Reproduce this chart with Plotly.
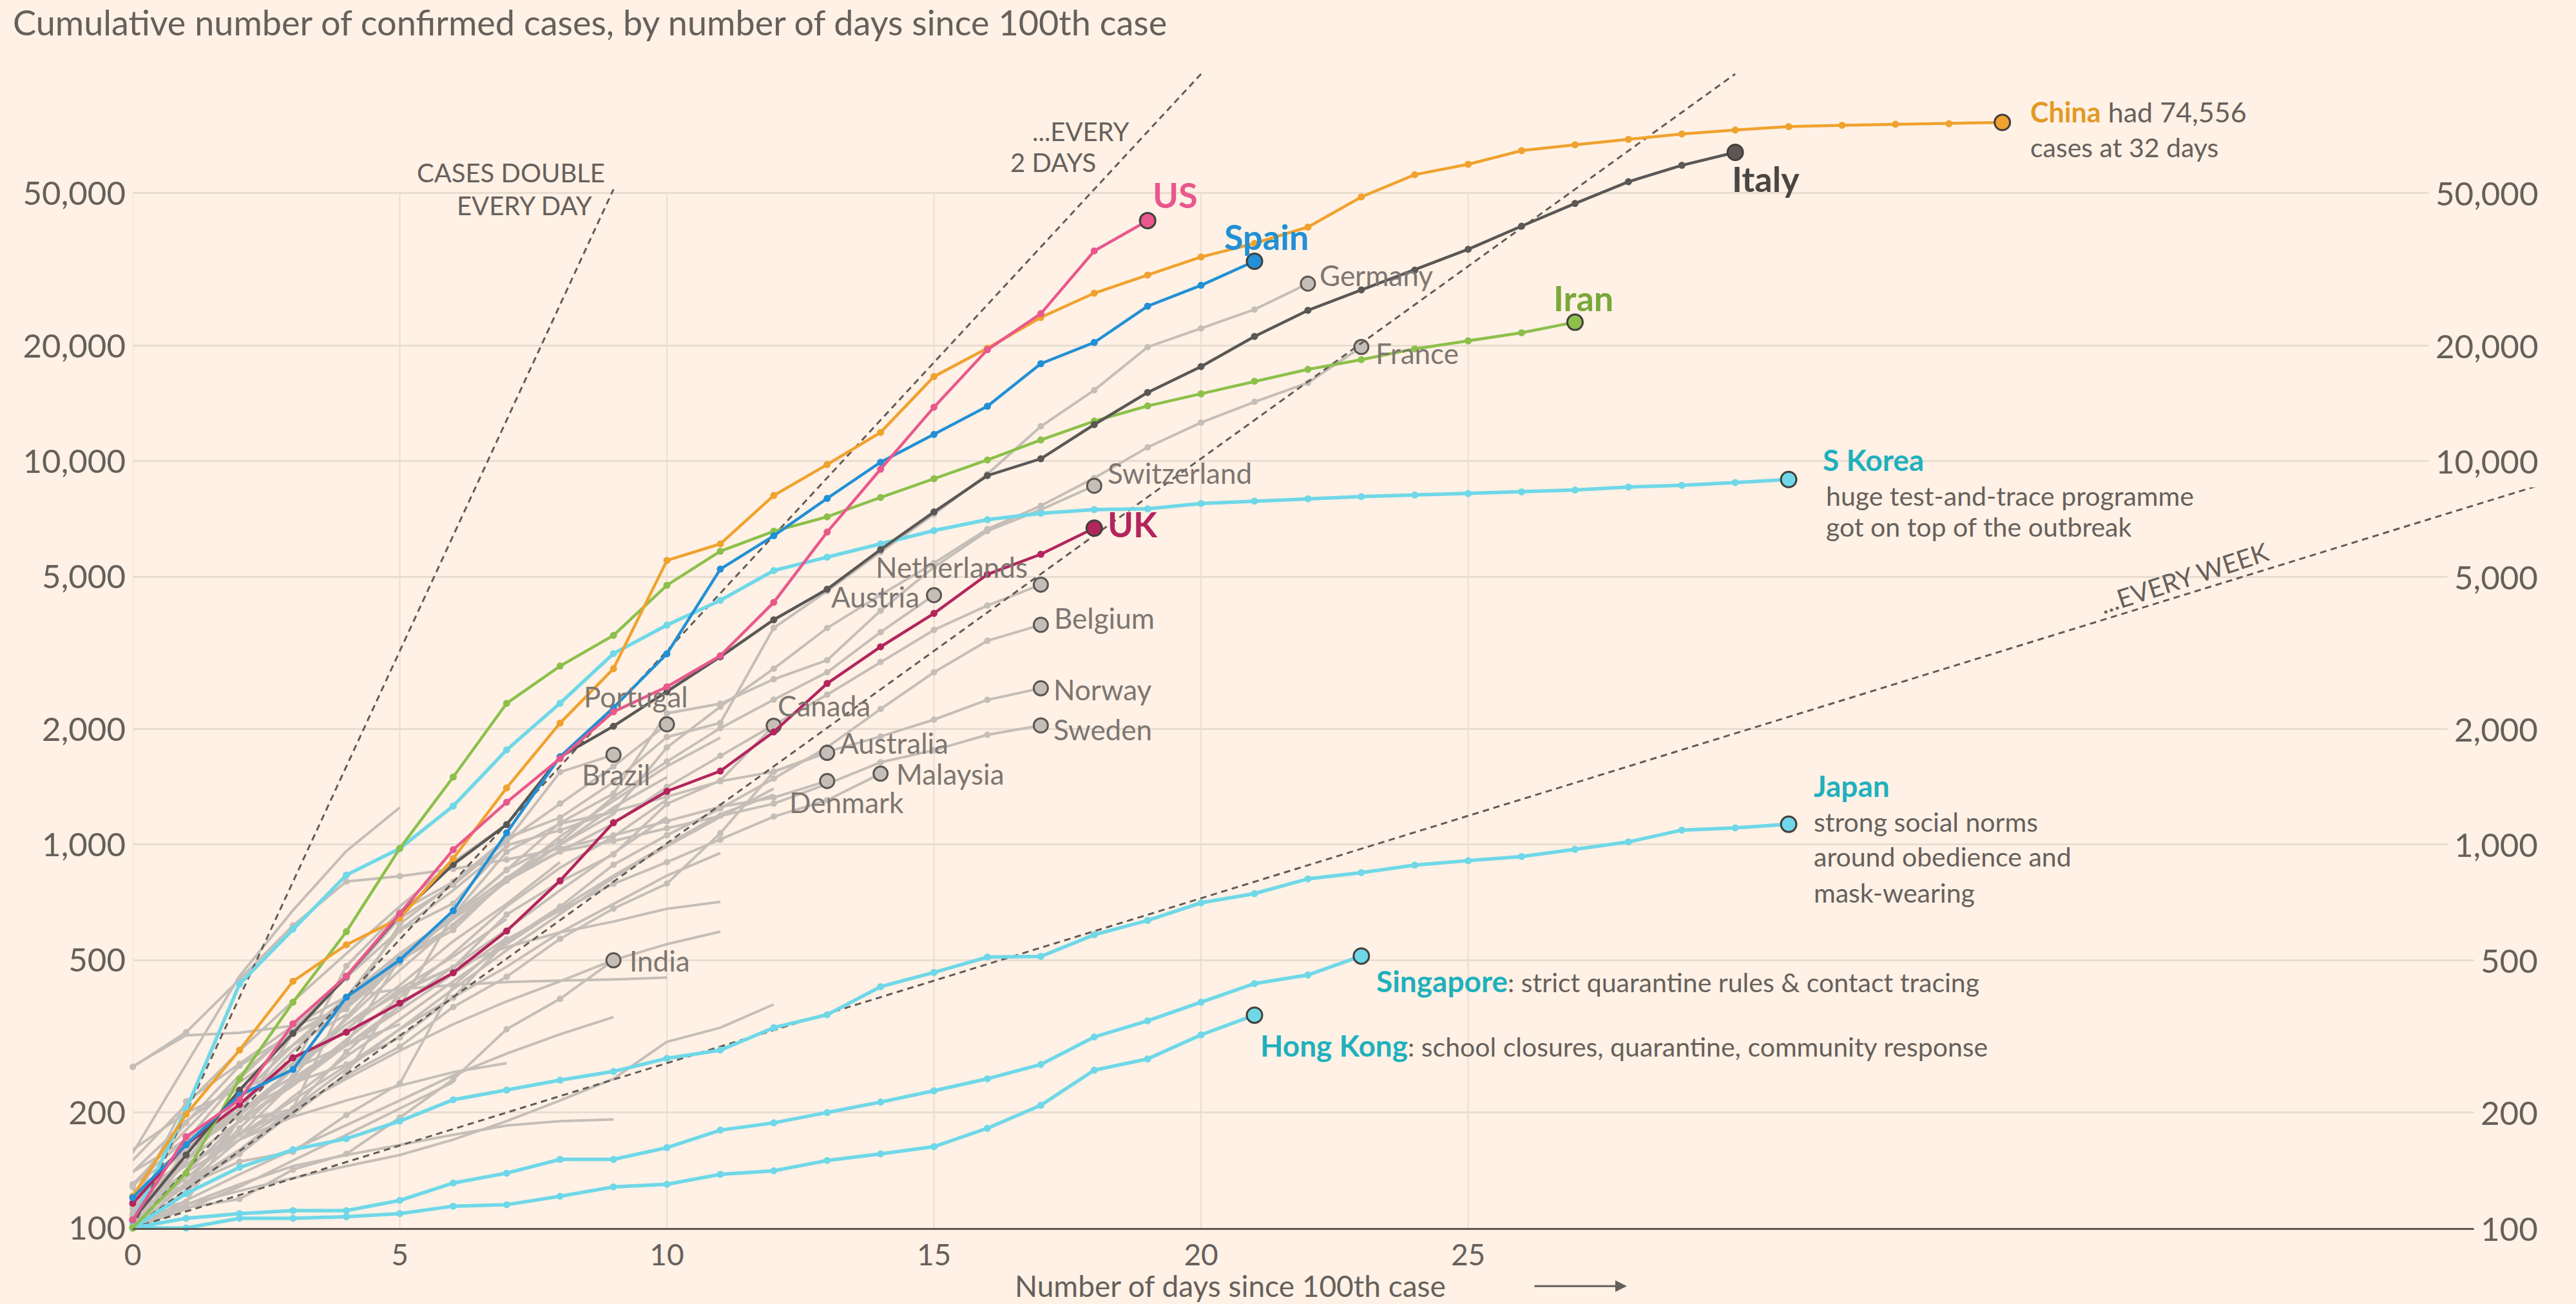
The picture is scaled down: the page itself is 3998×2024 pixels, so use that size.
import math
import plotly.graph_objects as go

# ---------------- data ----------------
X_TICKS = [0, 5, 10, 15, 20, 25]
X_TICK_TEXT = ["0", "5", "10", "15", "20", "25"]
Y_TICKS = [100, 200, 500, 1000, 2000, 5000, 10000, 20000, 50000]
Y_TICK_TEXT = ["100", "200", "500", "1,000", "2,000", "5,000", "10,000", "20,000", "50,000"]

# highlighted countries (cumulative cases, day 0 = first day >= 100 cases)
china = [121, 198, 291, 440, 548, 643, 920, 1406, 2075, 2877, 5509, 6087, 8141, 9802, 11891,
         16630, 19716, 23707, 27440, 30587, 34110, 37000, 40800, 48900, 55900, 59500, 64600,
         66900, 69100, 71400, 73100, 74600, 75200, 75700, 75900, 76500]
italy = [105, 155, 229, 322, 453, 655, 888, 1128, 1694, 2036, 2502, 3089, 3858, 4636, 5883, 7375,
         9172, 10149, 12462, 15113, 17660, 21157, 24747, 27980, 31506, 35713, 41035, 47021, 53578,
         59138, 63927]
spain = [120, 165, 222, 259, 400, 500, 673, 1073, 1695, 2277, 3146, 5232, 6391, 8000, 9942, 11748,
         13910, 17963, 20410, 25374, 28768, 33240]
us = [105, 173, 216, 341, 454, 661, 970, 1290, 1677, 2220, 2580, 3110, 4285, 6535, 9530, 13840,
      19540, 24260, 35370, 42430]
iran = [100, 139, 245, 388, 593, 978, 1501, 2336, 2922, 3513, 4747, 5823, 6566, 7161, 8042, 9000,
        10075, 11364, 12729, 13938, 14991, 16169, 17361, 18407, 19644, 20610, 21638, 23049]
uk = [116, 165, 210, 278, 324, 386, 463, 595, 805, 1141, 1377, 1555, 1967, 2632, 3280, 4010, 5067,
      5720, 6690]
s_korea = [104, 204, 433, 602, 833, 977, 1261, 1766, 2337, 3150, 3736, 4335, 5186, 5621, 6088, 6593,
           7041, 7314, 7478, 7513, 7755, 7869, 7979, 8086, 8162, 8236, 8320, 8413, 8565, 8652, 8799,
           8961]
japan = [100, 123, 144, 160, 171, 190, 216, 229, 243, 256, 277, 291, 333, 360, 426, 464, 509, 511,
         582, 634, 705, 745, 814, 845, 884, 908, 931, 972, 1016, 1091, 1106, 1130]
singapore = [100, 106, 109, 111, 111, 118, 131, 139, 151, 151, 162, 180, 188, 200, 213, 228, 245,
             267, 315, 347, 388, 434, 457, 512]
hong_kong = [100, 100, 106, 106, 107, 109, 114, 115, 121, 128, 130, 138, 141, 150, 156, 163, 182,
             209, 258, 276, 319, 359]

# labelled grey countries
germany = [130, 159, 196, 262, 482, 670, 799, 1040, 1176, 1457, 1908, 2078, 3675, 4585, 5795, 7272,
           9257, 12327, 15320, 19848, 22213, 24873, 29056]
france = [100, 130, 191, 204, 288, 380, 656, 957, 1134, 1217, 1792, 2289, 2876, 3672, 4480, 5423,
          6650, 7652, 9043, 10871, 12612, 14282, 16018, 19856]
switzerland = [114, 214, 268, 337, 374, 491, 652, 858, 1139, 1359, 2200, 2330, 2700, 3028, 4075,
               5294, 6575, 7474, 8630]
netherlands = [128, 188, 265, 321, 382, 503, 614, 804, 959, 1135, 1413, 1705, 2051, 2460, 2994,
               3631, 4204, 4764]
austria = [104, 131, 182, 246, 302, 504, 655, 860, 1018, 1332, 1646, 2013, 2388, 2814, 3582, 4474]
belgium = [109, 169, 200, 239, 267, 314, 399, 559, 689, 886, 1058, 1243, 1486, 1795, 2257, 2815,
           3401, 3743]
norway = [108, 147, 176, 205, 400, 598, 702, 996, 1090, 1221, 1333, 1463, 1550, 1746, 1914, 2118,
          2385, 2557]
sweden = [101, 161, 203, 248, 355, 500, 599, 814, 961, 1022, 1103, 1190, 1279, 1439, 1639, 1763,
          1934, 2046]
portugal = [112, 169, 245, 331, 448, 642, 785, 1020, 1280, 1600, 2060]
brazil = [121, 162, 200, 321, 372, 621, 793, 1021, 1546, 1715]
canada = [108, 117, 193, 198, 252, 415, 478, 657, 800, 943, 1277, 1469, 2042]
australia = [107, 128, 156, 200, 250, 297, 377, 452, 568, 681, 791, 1071, 1549, 1735]
denmark = [263, 324, 445, 615, 801, 827, 864, 914, 977, 1057, 1151, 1255, 1326, 1465]
malaysia = [117, 129, 149, 158, 197, 238, 428, 566, 673, 790, 900, 1030, 1183, 1306, 1531]
india = [102, 113, 119, 142, 156, 194, 244, 330, 396, 499]

# other (unlabelled) countries
other_a = [157, 266, 454, 674, 962, 1250]
other_b = [130, 180, 250, 330, 450, 600, 760, 990]
other_c = [110, 150, 210, 290, 380, 500, 650, 820, 1000, 1200]
other_d = [120, 160, 200, 260, 340, 430, 560, 700, 900]
other_e = [105, 135, 175, 240, 310, 400, 520, 690, 870, 1050, 1310]
other_f = [140, 170, 220, 260, 330, 420, 510, 640]
other_g = [100, 130, 170, 220, 280, 350, 440, 550, 680, 830, 1000, 1200, 1350]
other_h = [115, 150, 190, 235, 300, 370, 460, 570]
other_i = [125, 145, 175, 215, 265, 330, 400, 480, 590, 700, 830, 950]
other_j = [264, 318, 323, 337, 401, 420, 430, 438, 442, 445, 450]
other_k = [100, 118, 138, 160, 185, 215, 250, 285, 320, 355]
other_l = [100, 115, 130, 145, 155, 165, 175, 185, 190, 192]
other_m = [105, 115, 125, 135, 145, 155, 170, 190, 215, 245, 306, 333, 383]
other_n = [110, 140, 170, 195, 215, 235, 255, 269]
other_o = [120, 160, 210, 270, 340, 410, 480, 540, 590, 630, 680, 709]
other_p = [110, 140, 170, 205, 245, 290, 340, 390, 440, 500, 550, 593]
other_q = [130, 170, 220, 300, 390, 510, 640, 800, 1000, 1250, 1500]
other_r = [150, 210, 290, 390, 520, 690, 900, 1130]
other_s = [105, 140, 190, 260, 350, 470, 620, 810, 1050, 1300, 1600, 1900]
other_t = [120, 150, 190, 240, 300, 380, 480, 600, 760, 950, 1180]
other_u = [100, 150, 220, 300, 400, 520, 650]
other_v = [140, 190, 240, 300, 360]
other_w = [110, 130, 160, 200, 250]
other_x = [100, 125, 160, 205, 260, 330, 420, 530, 660, 820, 990, 1180, 1400]
other_y = [160, 200, 230, 260, 300, 340]
other_z = [100, 112, 128, 150, 175, 205, 240]

# doubling-time guide lines: doubling period (days) and last day drawn
DOUBLING_PERIOD = [1, 2, 3, 7]
DOUBLING_LAST_DAY = [9, 20, 30, 45]
START_CASES = 100

# ---------------- style ----------------
BG = "#fff1e5"
GRID = "#e9ddd2"
AXIS = "#5e5752"
TXT = "#66605c"
GREY = "#c5beb8"
GREY_TXT = "#7d7672"
OUTLINE = "#44403d"
FONT = "Lato"
C_CHINA = "#f0a22e"
C_ITALY = "#5a5755"
C_SPAIN = "#2190d6"
C_US = "#e9588c"
C_IRAN = "#8cc04a"
C_UK = "#b3255d"
C_CYAN = "#6fd8e8"
T_CYAN = "#1fb0bd"

fig = go.Figure()


def days(vals):
    return list(range(len(vals)))


# vertical grid lines (only up to the top tick, as in the original)
gx, gy = [], []
for t in X_TICKS:
    gx += [t, t, None]
    gy += [Y_TICKS[0], Y_TICKS[-1], None]
fig.add_trace(go.Scatter(x=gx, y=gy, mode="lines", line=dict(color=GRID, width=2),
                         hoverinfo="skip", showlegend=False))

others = [other_a, other_b, other_c, other_d, other_e, other_f, other_g, other_h, other_i,
          other_j, other_k, other_l, other_m, other_n, other_o, other_p, other_q, other_r,
          other_s, other_t, other_u, other_v, other_w, other_x, other_y, other_z]
for vals in others:
    fig.add_trace(go.Scatter(x=days(vals), y=vals, mode="lines",
                             line=dict(color=GREY, width=4), hoverinfo="skip", showlegend=False))

labelled_grey = [germany, france, switzerland, netherlands, austria, belgium, norway, sweden,
                 portugal, brazil, canada, australia, denmark, malaysia, india]
for vals in labelled_grey:
    fig.add_trace(go.Scatter(x=days(vals), y=vals, mode="lines+markers",
                             line=dict(color=GREY, width=4), marker=dict(color=GREY, size=10),
                             hoverinfo="skip", showlegend=False, cliponaxis=False))
for vals in labelled_grey:
    fig.add_trace(go.Scatter(x=[len(vals) - 1], y=[vals[-1]], mode="markers",
                             marker=dict(color=GREY, size=22, line=dict(color="#5b5652", width=3)),
                             hoverinfo="skip", showlegend=False, cliponaxis=False))

# doubling guide lines
for period, last in zip(DOUBLING_PERIOD, DOUBLING_LAST_DAY):
    fig.add_trace(go.Scatter(x=[0, last], y=[START_CASES, START_CASES * 2 ** (last / period)],
                             mode="lines", line=dict(color="#625c58", width=3, dash="10px,7px"),
                             hoverinfo="skip", showlegend=False))

highlight = [(hong_kong, C_CYAN), (singapore, C_CYAN), (japan, C_CYAN), (s_korea, C_CYAN),
             (uk, C_UK), (iran, C_IRAN), (italy, C_ITALY), (china, C_CHINA), (spain, C_SPAIN),
             (us, C_US)]
for vals, col in highlight:
    width = 5.5 if col == C_CYAN else 4.5
    fig.add_trace(go.Scatter(x=days(vals), y=vals, mode="lines+markers",
                             line=dict(color=col, width=width), marker=dict(color=col, size=11),
                             hoverinfo="skip", showlegend=False, cliponaxis=False))
    fig.add_trace(go.Scatter(x=[len(vals) - 1], y=[vals[-1]], mode="markers",
                             marker=dict(color=col, size=24, line=dict(color=OUTLINE, width=3)),
                             hoverinfo="skip", showlegend=False, cliponaxis=False))

ann = []


def end_label(vals, text, xshift, yshift, color, size, bold=False, xanchor="left"):
    t = f"<b>{text}</b>" if bold else text
    ann.append(dict(x=len(vals) - 1, y=math.log10(vals[-1]), xref="x", yref="y", text=t,
                    showarrow=False, xanchor=xanchor, yanchor="middle", xshift=xshift,
                    yshift=yshift, align="left", font=dict(family=FONT, size=size, color=color)))


BIG = 54
GL = 44
DESC = 41
TEAL = 46
end_label(us, "US", 6, 40, C_US, BIG, True)
end_label(spain, "Spain", -49, 38, C_SPAIN, BIG, True)
end_label(italy, "Italy", -7, -41, "#4a4643", BIG, True)
end_label(iran, "Iran", -35, 38, "#78a83a", BIG, True)
end_label(uk, "UK", 19, 6, C_UK, BIG, True)
end_label(china, "<b><span style='color:#e39a25'>China</span></b> had 74,556", 41, 17, TXT, 43)
end_label(china, "cases at 32 days", 41, -38, TXT, 41)

end_label(germany, "Germany", 16, 13, GREY_TXT, GL)
end_label(france, "France", 20, -9, GREY_TXT, GL)
end_label(switzerland, "Switzerland", 19, 20, GREY_TXT, GL)
end_label(netherlands, "Netherlands", -18, 28, GREY_TXT, GL, xanchor="right")
end_label(austria, "Austria", -21, -2, GREY_TXT, GL, xanchor="right")
end_label(belgium, "Belgium", 19, 11, GREY_TXT, GL)
end_label(norway, "Norway", 18, -2, GREY_TXT, GL)
end_label(sweden, "Sweden", 18, -6, GREY_TXT, GL)
end_label(portugal, "Portugal", 35, 43, GREY_TXT, GL, xanchor="right")
end_label(brazil, "Brazil", -51, -30, GREY_TXT, GL)
end_label(canada, "Canada", 4, 31, GREY_TXT, GL)
end_label(australia, "Australia", 17, 16, GREY_TXT, GL)
end_label(denmark, "Denmark", -61, -33, GREY_TXT, GL)
end_label(malaysia, "Malaysia", 22, 0, GREY_TXT, GL)
end_label(india, "India", 23, 0, GREY_TXT, GL)

end_label(s_korea, "S Korea", 51, 31, T_CYAN, TEAL, True)
end_label(s_korea, "huge test-and-trace programme", 56, -25, TXT, DESC)
end_label(s_korea, "got on top of the outbreak", 56, -73, TXT, DESC)
end_label(japan, "Japan", 37, 60, T_CYAN, TEAL, True)
end_label(japan, "strong social norms", 37, 4, TXT, DESC)
end_label(japan, "around obedience and", 37, -50, TXT, DESC)
end_label(japan, "mask-wearing", 37, -106, TXT, DESC)
end_label(singapore, f"<b><span style='color:{T_CYAN};font-size:{TEAL}px'>Singapore</span></b>: strict quarantine rules &amp; contact tracing", 21, -39, TXT, DESC)
end_label(hong_kong, f"<b><span style='color:{T_CYAN};font-size:{TEAL}px'>Hong Kong</span></b>: school closures, quarantine, community response", 7, -47, TXT, DESC)

# doubling-line captions
DL = dict(family=FONT, size=40, color=TXT)
for text, x, y in [("CASES DOUBLE", 8.87, 4.753), ("EVERY DAY", 8.63, 4.667),
                   ("...EVERY", 18.69, 4.861), ("2 DAYS", 18.06, 4.780),
                   ("...EVERY", 32.1, 5.150), ("3 DAYS", 31.25, 5.067)]:
    ann.append(dict(x=x, y=y, xref="x", yref="y", text=text, showarrow=False, xanchor="right",
                    yanchor="middle", font=DL))
ann.append(dict(x=38.4, y=3.696, xref="x", yref="y", text="...EVERY WEEK", showarrow=False,
                xanchor="center", yanchor="middle", textangle=-18, font=DL))

# right-hand tick labels
for v, t in zip(Y_TICKS, Y_TICK_TEXT):
    ann.append(dict(x=1, y=math.log10(v), xref="paper", yref="y", text=t, showarrow=False,
                    xanchor="right", yanchor="middle", xshift=5, bgcolor=BG, borderpad=10,
                    font=dict(family=FONT, size=51, color=TXT)))

# x-axis title with arrow
ann.append(dict(x=0.3656, y=-0.0498, xref="paper", yref="paper",
                text="Number of days since 100th case", showarrow=False, xanchor="left",
                yanchor="middle", font=dict(family=FONT, size=46, color=TXT)))
ann.append(dict(x=0.6202, y=-0.050, xref="paper", yref="paper", text="", showarrow=True,
                ax=-145, ay=0, axref="pixel", ayref="pixel", arrowhead=2, arrowsize=1.2,
                arrowwidth=3, arrowcolor=TXT))

fig.update_layout(
    width=3998, height=2024, autosize=False,
    paper_bgcolor=BG, plot_bgcolor=BG, showlegend=False, hovermode=False,
    margin=dict(l=206, r=53, t=100, b=118),
    title=dict(text="Cumulative number of confirmed cases, by number of days since 100th case",
               x=20 / 3998, xref="container", xanchor="left", y=1 - 36 / 2024, yref="container",
               yanchor="middle", font=dict(family=FONT, size=54, color=TXT)),
    xaxis=dict(range=[0, 45.1], tickvals=X_TICKS, ticktext=X_TICK_TEXT, showgrid=False,
               zeroline=False, showline=True, linecolor=AXIS, linewidth=3, ticks="",
               ticklabelstandoff=0, tickfont=dict(family=FONT, size=46, color=TXT)),
    yaxis=dict(type="log", range=[2, 5.035], tickvals=Y_TICKS, ticktext=Y_TICK_TEXT,
               showgrid=True, gridcolor=GRID, gridwidth=3, zeroline=False, showline=False,
               ticks="", ticklabelstandoff=10, tickfont=dict(family=FONT, size=51, color=TXT)),
    annotations=ann,
)

fig.write_html("out.html", config={"displayModeBar": False},
               post_script="document.body.style.margin='0';document.body.style.overflow='hidden';")
